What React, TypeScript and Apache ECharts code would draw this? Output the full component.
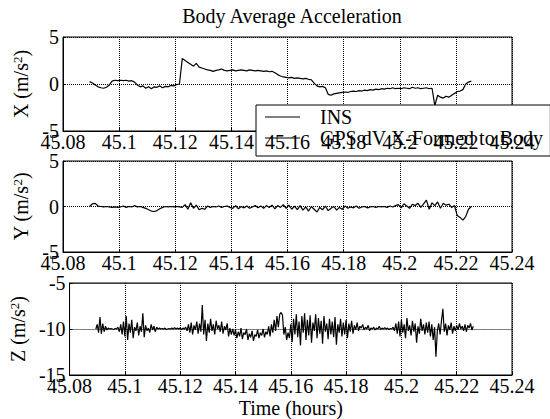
import React, { useEffect, useRef } from "react";
import * as echarts from "echarts";

const FONT = "'Liberation Serif', 'Times New Roman', serif";

const titleText = "Body Average Acceleration";
const legendNames = ["INS", "GPS dV X-Formed to Body"];
const xMin = 45.08;
const xMax = 45.24;
const xInterval = 0.02;
const timeLabel = "Time (hours)";

// sampling of the INS records (hours)
const tStart = 45.0895;
const tStepXY = 0.001;
const tStepZ = 0.0005;

// X body acceleration (m/s^2)
const insX = [
  0.25, 0.1, -0.1, -0.3, -0.4, -0.45, -0.35, -0.1, 0.3, 0.4,
  0.35, 0.4, 0.35, 0.4, 0.3, 0.35, 0.2, -0.1, -0.3, -0.2,
  -0.45, -0.3, -0.5, -0.3, -0.35, -0.2, -0.4, -0.25, -0.3, -0.15,
  -0.2, -0.05, 0.0, 2.7, 2.5, 2.3, 2.1, 1.9, 2.2, 1.8,
  1.7, 1.6, 1.5, 1.45, 1.35, 1.45, 1.5, 1.6, 1.45, 1.4,
  1.45, 1.5, 1.4, 1.45, 1.5, 1.45, 1.4, 1.5, 1.45, 1.4,
  1.45, 1.4, 1.35, 1.4, 1.3, 1.35, 1.2, 1.0, 0.85, 0.75,
  0.7, 0.65, 0.7, 0.6, 0.65, 0.6, 0.55, 0.6, 0.5, 0.45,
  0.1, -0.2, -0.3, -0.25, -0.4, -1.1, -1.2, -1.05, -1.0, -0.95,
  -0.9, -0.85, -0.9, -0.8, -0.75, -0.8, -0.7, -0.75, -0.65, -0.7,
  -0.6, -0.65, -0.55, -0.6, -0.5, -0.55, -0.45, -0.5, -0.4, -0.5,
  -0.45, -0.5, -0.4, -0.45, -0.5, -0.35, -0.45, -0.4, -0.5, -0.45,
  -0.4, -0.5, -0.45, -2.3, -1.2, -1.4, -1.5, -1.3, -1.4, -1.2,
  -1.0, -0.8, -0.75, -0.6, 0.0, 0.2, 0.3,
];

// Y body acceleration (m/s^2)
const insY = [
  0.0, 0.3, 0.35, 0.05, 0.0, -0.05, 0.0, -0.05, -0.1, -0.05,
  -0.1, -0.05, 0.05, -0.1, 0.0, -0.05, 0.1, -0.05, 0.0, -0.1,
  -0.2, -0.35, -0.5, -0.55, -0.45, -0.25, -0.1, 0.0, -0.05, 0.0,
  -0.05, 0.0, -0.05, -0.1, 0.2, -0.3, 0.4, -0.2, 0.15, -0.35,
  -0.2, -0.3, 0.05, -0.1, 0.0, -0.05, 0.05, -0.1, 0.0, 0.05,
  -0.1, -0.2, 0.1, -0.25, 0.0, -0.15, 0.05, -0.2, -0.05, 0.1,
  -0.15, 0.05, -0.2, 0.1, -0.1, 0.15, -0.25, 0.1, -0.1, 0.2,
  -0.2, 0.15, -0.3, 0.05, -0.35, 0.1, -0.4, -0.05, -0.5, 0.0,
  -0.3, -0.6, -0.1, -0.35, 0.05, -0.45, -0.2, 0.0, -0.4, -0.1,
  -0.3, 0.05, -0.2, -0.05, -0.15, 0.05, -0.2, -0.05, 0.0, -0.15,
  -0.05, 0.0, -0.1, 0.0, -0.05, 0.0, -0.1, 0.05, -0.05, 0.1,
  0.2, -0.15, 0.3, 0.05, -0.2, 0.25, 0.1, 0.35, -0.1, 0.3,
  0.7, -0.3, 0.4, 0.1, 0.5, -0.2, 0.35, 0.15, 0.25, -0.1,
  0.1, -1.0, -1.2, -1.5, -1.1, -0.3, 0.0,
];

// Z body acceleration (m/s^2)
const insZ = [
  -10.0, -9.5, -10.4, -8.7, -10.5, -9.4, -10.3, -9.7, -10.1, -9.9,
  -10.0, -9.95, -10.0, -10.05, -9.95, -10.0, -9.8, -10.3, -9.5, -10.6,
  -9.2, -10.8, -8.6, -11.2, -9.4, -10.4, -9.0, -11.0, -9.8, -10.2,
  -9.3, -10.7, -9.7, -10.3, -8.3, -10.9, -9.6, -10.2, -9.9, -10.4,
  -9.5, -10.1, -9.7, -10.3, -9.8, -10.0, -9.9, -10.0, -9.95, -10.0,
  -9.9, -10.05, -10.0, -9.95, -10.0, -9.9, -10.0, -9.85, -10.0, -9.9,
  -10.0, -9.9, -10.05, -9.9, -10.0, -9.8, -10.2, -9.5, -10.4, -9.3,
  -10.6, -9.6, -10.1, -9.2, -10.5, -9.4, -10.3, -7.4, -10.6, -9.0,
  -11.3, -9.4, -10.4, -8.9, -10.2, -9.5, -10.6, -9.1, -10.0, -9.6,
  -10.3, -9.2, -10.5, -9.7, -10.1, -9.4, -10.8, -9.9, -10.6, -10.0,
  -10.7, -10.1, -11.0, -10.3, -10.8, -9.9, -11.1, -10.4, -10.6, -10.0,
  -11.2, -10.5, -10.9, -10.2, -11.3, -10.6, -10.8, -10.1, -11.0, -10.4,
  -10.7, -10.0, -10.9, -10.3, -10.6, -9.7, -10.8, -9.5, -10.4, -9.0,
  -10.2, -8.6, -9.8, -8.4, -8.2, -8.5, -10.6, -9.8, -11.2, -10.4,
  -11.0, -9.5, -11.4, -8.9, -10.6, -8.4, -10.9, -9.2, -11.8, -8.6,
  -10.4, -8.3, -11.2, -9.0, -10.7, -8.5, -11.5, -9.3, -10.2, -8.4,
  -11.0, -8.8, -10.5, -9.1, -11.6, -8.6, -10.3, -9.4, -11.1, -8.9,
  -10.6, -9.2, -10.9, -8.7, -11.7, -9.5, -10.4, -8.9, -10.8, -9.3,
  -10.6, -9.0, -11.0, -9.4, -10.3, -9.1, -10.5, -9.6, -10.1, -9.3,
  -10.2, -9.7, -9.9, -9.5, -10.1, -9.8, -10.0, -9.6, -10.2, -9.9,
  -10.0, -9.8, -10.1, -9.9, -10.0, -9.7, -10.05, -9.9, -10.0, -9.85,
  -10.0, -9.9, -10.05, -9.95, -10.0, -9.8, -10.2, -9.4, -10.5, -9.2,
  -10.8, -9.0, -10.4, -9.5, -11.0, -8.8, -10.2, -9.6, -10.7, -9.1,
  -10.3, -9.4, -11.5, -9.7, -10.5, -8.9, -10.2, -9.5, -10.6, -9.3,
  -10.4, -9.2, -10.8, -9.5, -11.2, -9.8, -13.0, -10.2, -9.4, -10.6,
  -9.1, -7.8, -10.3, -9.4, -10.7, -9.6, -10.1, -9.3, -10.5, -9.7,
  -10.2, -9.6, -10.1, -9.4, -10.0, -9.7, -10.2, -9.5, -10.3, -9.6,
  -9.9, -9.4, -10.1, -9.7,
];

const panels = [
  { axisName: "X (m/s{sup|2})", min: -5, max: 5, interval: 5, values: insX, step: tStepXY },
  { axisName: "Y (m/s{sup|2})", min: -5, max: 5, interval: 5, values: insY, step: tStepXY },
  { axisName: "Z (m/s{sup|2})", min: -15, max: -5, interval: 5, values: insZ, step: tStepZ },
];

const grids = [
  { left: 63, top: 37, width: 449, height: 94 },
  { left: 63, top: 161, width: 449, height: 91 },
  { left: 63, top: 283, width: 449, height: 92 },
];

function toPairs(vals: number[], step: number) {
  return vals.map((v, i) => [Number((tStart + i * step).toFixed(4)), v]);
}

const fmtX = (v: number) => String(parseFloat(v.toFixed(2)));

export default function App() {
  const ref = useRef<HTMLDivElement>(null);

  useEffect(() => {
    if (!ref.current) return;
    const chart = echarts.init(ref.current, undefined, { renderer: "svg" });

    const labelStyle = { fontFamily: FONT, fontSize: 20, color: "#000" };

    const xLabel = {
      show: true,
      ...labelStyle,
      margin: 1,
      formatter: fmtX,
      showMinLabel: true,
      showMaxLabel: true,
      hideOverlap: false,
    };

    const xAxes: any[] = grids.map((_, gi) => ({
      type: "value",
      gridIndex: gi,
      position: "bottom",
      min: xMin,
      max: xMax,
      interval: xInterval,
      axisLine: { show: true, onZero: false, lineStyle: { color: "#000", width: 1 } },
      axisTick: { show: true, inside: true, length: 3, lineStyle: { color: "#000" } },
      splitLine: { show: true, lineStyle: { color: "#000", type: "dotted", width: 1 } },
      axisLabel: { ...xLabel, show: gi !== 0 },
      name: gi === 2 ? timeLabel : "",
      nameLocation: "middle",
      nameGap: 23,
      nameTextStyle: labelStyle,
      z: 0,
    }));
    // labels of the top panel, drawn above the legend box
    xAxes.push({
      type: "value",
      gridIndex: 0,
      position: "bottom",
      min: xMin,
      max: xMax,
      interval: xInterval,
      axisLine: { show: false, onZero: false },
      axisTick: { show: false },
      splitLine: { show: false },
      axisLabel: xLabel,
      z: 10,
    });

    const yAxes = panels.map((p, gi) => ({
      type: "value",
      gridIndex: gi,
      position: "left",
      min: p.min,
      max: p.max,
      interval: p.interval,
      axisLine: { show: true, onZero: false, lineStyle: { color: "#000", width: 1 } },
      axisTick: { show: true, inside: true, length: 3, lineStyle: { color: "#000" } },
      splitLine: { show: true, lineStyle: { color: "#000", type: "dotted", width: 1 } },
      axisLabel: { ...labelStyle, margin: 4, showMinLabel: true, showMaxLabel: true },
      name: p.axisName,
      nameLocation: "middle",
      nameRotate: 90,
      nameGap: 20,
      nameTextStyle: {
        ...labelStyle,
        rich: {
          sup: { fontFamily: FONT, fontSize: 13, color: "#000", verticalAlign: "top", lineHeight: 12 },
        },
      },
    }));

    const series: any[] = panels.map((p, gi) => ({
      type: "line",
      name: legendNames[0],
      xAxisIndex: gi,
      yAxisIndex: gi,
      data: toPairs(p.values, p.step),
      symbol: "none",
      showSymbol: false,
      lineStyle: { color: "#000", width: 1.2 },
      itemStyle: { color: "#000" },
      z: 2,
    }));
    series.push({
      type: "line",
      name: legendNames[1],
      xAxisIndex: 0,
      yAxisIndex: 0,
      data: [],
      symbol: "none",
      lineStyle: { color: "#000", width: 1 },
      itemStyle: { color: "#000" },
    });

    chart.setOption({
      animation: false,
      backgroundColor: "#fff",
      title: {
        text: titleText,
        left: 287,
        top: 1,
        textAlign: "center",
        textStyle: { fontFamily: FONT, fontSize: 20, fontWeight: "normal", color: "#000" },
      },
      legend: {
        data: legendNames,
        orient: "vertical",
        left: 256,
        top: 105,
        icon: "rect",
        itemWidth: 35,
        itemHeight: 1.2,
        itemGap: 1,
        padding: [2, 7, 8, 9],
        backgroundColor: "#fff",
        borderColor: "#000",
        borderWidth: 1,
        borderRadius: 0,
        selectedMode: false,
        z: 4,
        textStyle: { fontFamily: FONT, fontSize: 20, color: "#000", lineHeight: 20, padding: [0, 0, 0, 15] },
      },
      grid: grids.map((g) => ({
        ...g,
        show: true,
        borderColor: "#000",
        borderWidth: 1,
        backgroundColor: "transparent",
        containLabel: false,
      })),
      xAxis: xAxes,
      yAxis: yAxes,
      series,
    });

    return () => chart.dispose();
  }, []);

  return (
    <div
      ref={ref}
      style={{ position: "absolute", left: 0, top: 0, width: 550, height: 419, background: "#fff" }}
    />
  );
}
